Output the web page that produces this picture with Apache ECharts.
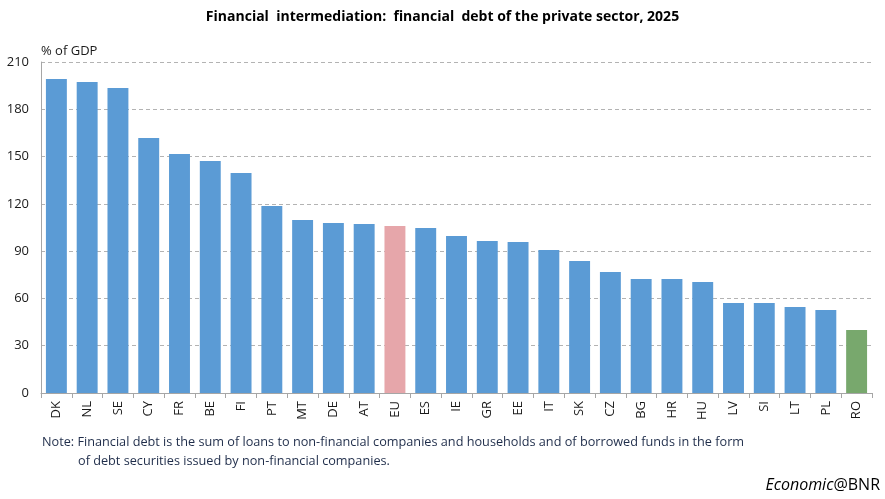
<!DOCTYPE html>
<html>
<head>
<meta charset="utf-8">
<script src="https://cdn.jsdelivr.net/npm/echarts@6/dist/echarts.min.js"></script>
<style>
  html, body { margin: 0; padding: 0; background: #fff; }
  #chart { width: 885px; height: 499px; }
</style>
</head>
<body>
<div id="chart"></div>
<script>
var countries = ['DK', 'NL', 'SE', 'CY', 'FR', 'BE', 'FI', 'PT', 'MT', 'DE', 'AT', 'EU', 'ES', 'IE',
    'GR', 'EE', 'IT', 'SK', 'CZ', 'BG', 'HR', 'HU', 'LV', 'SI', 'LT', 'PL', 'RO'];
var debtValues = [199.2, 197.3, 193.5, 161.8, 151.6, 147.2, 139.6, 118.7, 109.8, 107.9, 107.2, 106.0, 104.7, 99.6,
    96.4, 95.8, 90.7, 83.8, 76.8, 72.3, 72.3, 70.4, 57.1, 57.1, 54.6, 52.7, 40.0];
var yTicks = [0, 30, 60, 90, 120, 150, 180, 210];

var blue = '#5B9BD5';
var highlight = { 'EU': '#E6A6AA', 'RO': '#78A86D' };
var font = 'Open Sans';

function buildData() {
    let data = [];
    for (let i = 0; i < countries.length; i++) {
        data.push({
            value: debtValues[i],
            itemStyle: { color: highlight[countries[i]] || blue }
        });
    }
    return data;
}

var chart = echarts.init(document.getElementById('chart'));
var option = {
    backgroundColor: '#fff',
    animation: false,
    textStyle: { fontFamily: font },
    title: {
        text: 'Financial  intermediation:  financial  debt of the private sector, 2025',
        left: 'center',
        top: 5,
        textStyle: { fontSize: 14, fontWeight: 'bold', color: '#000', fontFamily: font }
    },
    grid: { left: 41, right: 13, top: 62, bottom: 106, containLabel: false },
    xAxis: {
        type: 'category',
        data: countries,
        axisLine: { lineStyle: { color: '#A6A6A6' } },
        axisTick: { show: true, alignWithLabel: false, length: 5, lineStyle: { color: '#A6A6A6' } },
        axisLabel: { rotate: 90, color: '#1a1a1a', fontSize: 13, margin: 8 }
    },
    yAxis: {
        type: 'value',
        min: 0,
        max: yTicks[yTicks.length - 1],
        interval: 30,
        name: '% of GDP',
        nameLocation: 'end',
        nameGap: 4,
        nameTextStyle: { color: '#1a1a1a', fontSize: 13, align: 'left', padding: [0, 0, 0, 0] },
        axisLine: { show: true, lineStyle: { color: '#A6A6A6' } },
        axisTick: { show: false },
        axisLabel: { color: '#1a1a1a', fontSize: 13, margin: 12 },
        splitLine: { lineStyle: { color: '#B3B3B3', type: [4, 3] } }
    },
    series: [{
        type: 'bar',
        data: buildData(),
        barCategoryGap: '32%'
    }],
    graphic: [
        {
            type: 'text', left: 42, top: 436,
            style: {
                text: 'Note: Financial debt is the sum of loans to non-financial companies and households and of borrowed funds in the form',
                fill: '#1F2D4A', font: '12.7px "Open Sans"'
            }
        },
        {
            type: 'text', left: 78, top: 455,
            style: {
                text: 'of debt securities issued by non-financial companies.',
                fill: '#1F2D4A', font: '12.7px "Open Sans"'
            }
        },
        {
            type: 'text', right: 5, top: 477,
            style: {
                rich: {
                    a: { fontStyle: 'italic', fontSize: 16, fill: '#000', fontFamily: font },
                    b: { fontSize: 16, fill: '#000', fontFamily: font }
                },
                text: '{a|Economic}{b|@BNR}'
            }
        }
    ]
};
chart.setOption(option, true);
</script>
</body>
</html>
